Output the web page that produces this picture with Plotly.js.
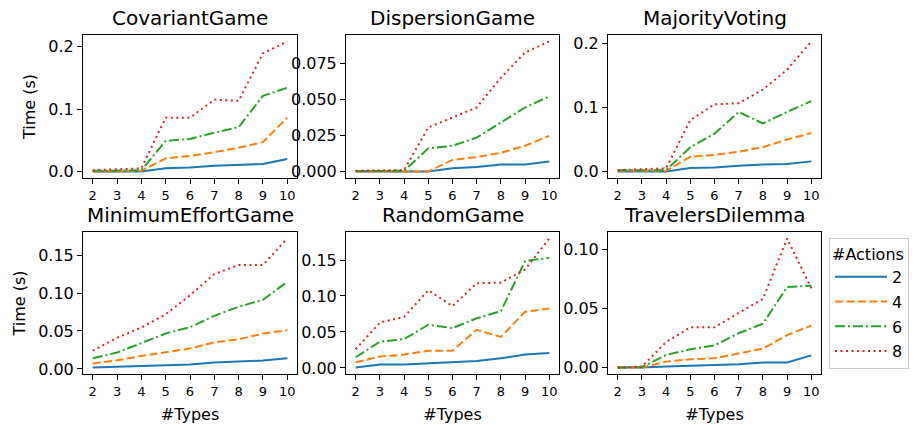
<!DOCTYPE html>
<html>
<head>
<meta charset="utf-8">
<script src="https://cdn.plot.ly/plotly-3.0.1.min.js"></script>
<style>html,body{margin:0;padding:0;background:#fff;}#chart{width:916px;height:425px;}</style>
</head>
<body>
<div id="chart"></div>
<script>
// ---- Data ----
const types = [2, 3, 4, 5, 6, 7, 8, 9, 10];
const actionLabels = ['2', '4', '6', '8'];
const gameNames = ['CovariantGame', 'DispersionGame', 'MajorityVoting', 'MinimumEffortGame', 'RandomGame', 'TravelersDilemma'];

const covariant_a2 = [0, 0, 0, 0.0053, 0.0064, 0.009, 0.011, 0.012, 0.020];
const covariant_a4 = [0, 0, 0.001, 0.021, 0.025, 0.031, 0.038, 0.047, 0.086];
const covariant_a6 = [0.001, 0.001, 0.002, 0.049, 0.052, 0.062, 0.071, 0.121, 0.134];
const covariant_a8 = [0.002, 0.003, 0.005, 0.086, 0.086, 0.115, 0.113, 0.189, 0.208];

const dispersion_a2 = [0, 0, 0, 0, 0.0023, 0.0032, 0.0048, 0.0048, 0.0069];
const dispersion_a4 = [0, 0, 0, 0, 0.008, 0.010, 0.013, 0.0178, 0.0247];
const dispersion_a6 = [0.0003, 0.0003, 0.0005, 0.016, 0.0178, 0.0235, 0.034, 0.0443, 0.052];
const dispersion_a8 = [0.0005, 0.0005, 0.001, 0.0305, 0.0374, 0.0443, 0.065, 0.0824, 0.090];

const majority_a2 = [0, 0, 0, 0.0053, 0.0063, 0.009, 0.011, 0.0116, 0.0158];
const majority_a4 = [0.001, 0.001, 0.001, 0.023, 0.026, 0.031, 0.038, 0.050, 0.060];
const majority_a6 = [0.002, 0.002, 0.002, 0.038, 0.059, 0.093, 0.075, 0.093, 0.110];
const majority_a8 = [0.002, 0.003, 0.005, 0.080, 0.105, 0.1066, 0.128, 0.159, 0.203];

const mineffort_a2 = [0.0018, 0.0026, 0.004, 0.0048, 0.0057, 0.0084, 0.0097, 0.011, 0.014];
const mineffort_a4 = [0.007, 0.0114, 0.017, 0.0216, 0.027, 0.035, 0.039, 0.0466, 0.051];
const mineffort_a6 = [0.014, 0.0216, 0.034, 0.0466, 0.055, 0.070, 0.082, 0.091, 0.115];
const mineffort_a8 = [0.024, 0.041, 0.0545, 0.072, 0.097, 0.125, 0.137, 0.137, 0.172];

const random_a2 = [0.0005, 0.0046, 0.0046, 0.0065, 0.0078, 0.0097, 0.0134, 0.0185, 0.0208];
const random_a4 = [0.0078, 0.0157, 0.0185, 0.024, 0.024, 0.053, 0.043, 0.078, 0.0826];
const random_a6 = [0.0148, 0.0365, 0.040, 0.060, 0.0554, 0.069, 0.079, 0.1486, 0.153];
const random_a8 = [0.026, 0.063, 0.071, 0.108, 0.086, 0.1177, 0.1186, 0.137, 0.180];

const travelers_a2 = [0, 0, 0.0008, 0.0014, 0.0022, 0.0028, 0.0042, 0.0042, 0.0103];
const travelers_a4 = [0, 0, 0.005, 0.007, 0.0078, 0.012, 0.016, 0.0274, 0.0355];
const travelers_a6 = [0, 0.0003, 0.0106, 0.0154, 0.0187, 0.029, 0.037, 0.068, 0.069];
const travelers_a8 = [0, 0.0008, 0.0215, 0.034, 0.034, 0.046, 0.058, 0.109, 0.067];

const yTickFormats = ['.1f', '.3f', '.1f', '.2f', '.2f', '.2f'];
const yTickSteps = [0.1, 0.025, 0.1, 0.05, 0.05, 0.05];

// ---- Build ----
const series = [
  [covariant_a2, covariant_a4, covariant_a6, covariant_a8],
  [dispersion_a2, dispersion_a4, dispersion_a6, dispersion_a8],
  [majority_a2, majority_a4, majority_a6, majority_a8],
  [mineffort_a2, mineffort_a4, mineffort_a6, mineffort_a8],
  [random_a2, random_a4, random_a6, random_a8],
  [travelers_a2, travelers_a4, travelers_a6, travelers_a8]
];
const colors = ['#1f77b4', '#ff7f0e', '#2ca02c', '#d62728'];
const dashes = ['solid', '8px,3.5px', '10px,3px,2px,3px', '2px,3.5px'];

const W = 916, H = 425;
const colPx = [[83, 297], [346, 559], [608, 821]];
const rowPx = [[35, 178], [232, 374]];

const traces = [];
const layout = {
  width: W, height: H,
  margin: {l: 0, r: 0, t: 0, b: 0},
  paper_bgcolor: '#fff', plot_bgcolor: '#fff',
  font: {family: 'DejaVu Sans', color: '#000', size: 16},
  showlegend: true,
  legend: {
    x: 829 / W, y: 1 - 238 / H, xanchor: 'left', yanchor: 'top',
    bgcolor: '#fff', bordercolor: '#cccccc', borderwidth: 1,
    title: {text: '#Actions', font: {size: 16}},
    font: {size: 16}, tracegroupgap: 1, itemwidth: 52
  },
  annotations: []
};

for (let g = 0; g < 6; g++) {
  const r = Math.floor(g / 3), c = g % 3;
  const idx = g === 0 ? '' : String(g + 1);
  const xa = 'x' + idx, ya = 'y' + idx;
  let mn = Infinity, mx = -Infinity;
  for (let k = 0; k < 4; k++) {
    const vals = series[g][k];
    mn = Math.min(mn, ...vals); mx = Math.max(mx, ...vals);
    traces.push({
      x: types, y: vals, xaxis: xa, yaxis: ya, type: 'scatter', mode: 'lines',
      name: actionLabels[k], legendgroup: actionLabels[k], showlegend: g === 0,
      line: {color: colors[k], width: 2, dash: dashes[k]}
    });
  }
  const pad = (mx - mn) * 0.05;
  const ticks = [];
  for (let t = 0; t <= mx + 1e-9; t += yTickSteps[g]) ticks.push(+t.toFixed(4));
  const xd = [colPx[c][0] / W, colPx[c][1] / W];
  const yd = [1 - rowPx[r][1] / H, 1 - rowPx[r][0] / H];
  layout['xaxis' + idx] = {
    domain: xd, anchor: ya, range: [1.6, 10.4],
    tickvals: types, ticktext: types.map(String), tickfont: {size: 13},
    showgrid: false, zeroline: false, showline: true, mirror: true,
    linecolor: '#000', linewidth: 1, ticks: 'outside', ticklen: 5, tickcolor: '#000',
    title: r === 1 ? {text: '#Types', font: {size: 16}, standoff: 11} : {text: ''}
  };
  layout['yaxis' + idx] = {
    domain: yd, anchor: xa, range: [mn - pad, mx + pad],
    tickvals: ticks, tickformat: yTickFormats[g], tickfont: {size: 16},
    showgrid: false, zeroline: false, showline: true, mirror: true,
    linecolor: '#000', linewidth: 1, ticks: 'outside', ticklen: 5, tickcolor: '#000',
    title: c === 0 ? {text: 'Time (s)', font: {size: 16}, standoff: 8} : {text: ''}
  };
  layout.annotations.push({
    text: gameNames[g], xref: 'paper', yref: 'paper',
    x: (xd[0] + xd[1]) / 2, y: yd[1], xanchor: 'center', yanchor: 'bottom',
    yshift: 3, showarrow: false, font: {size: 20}
  });
}

Plotly.newPlot('chart', traces, layout, {displayModeBar: false, staticPlot: true});
</script>
</body>
</html>
